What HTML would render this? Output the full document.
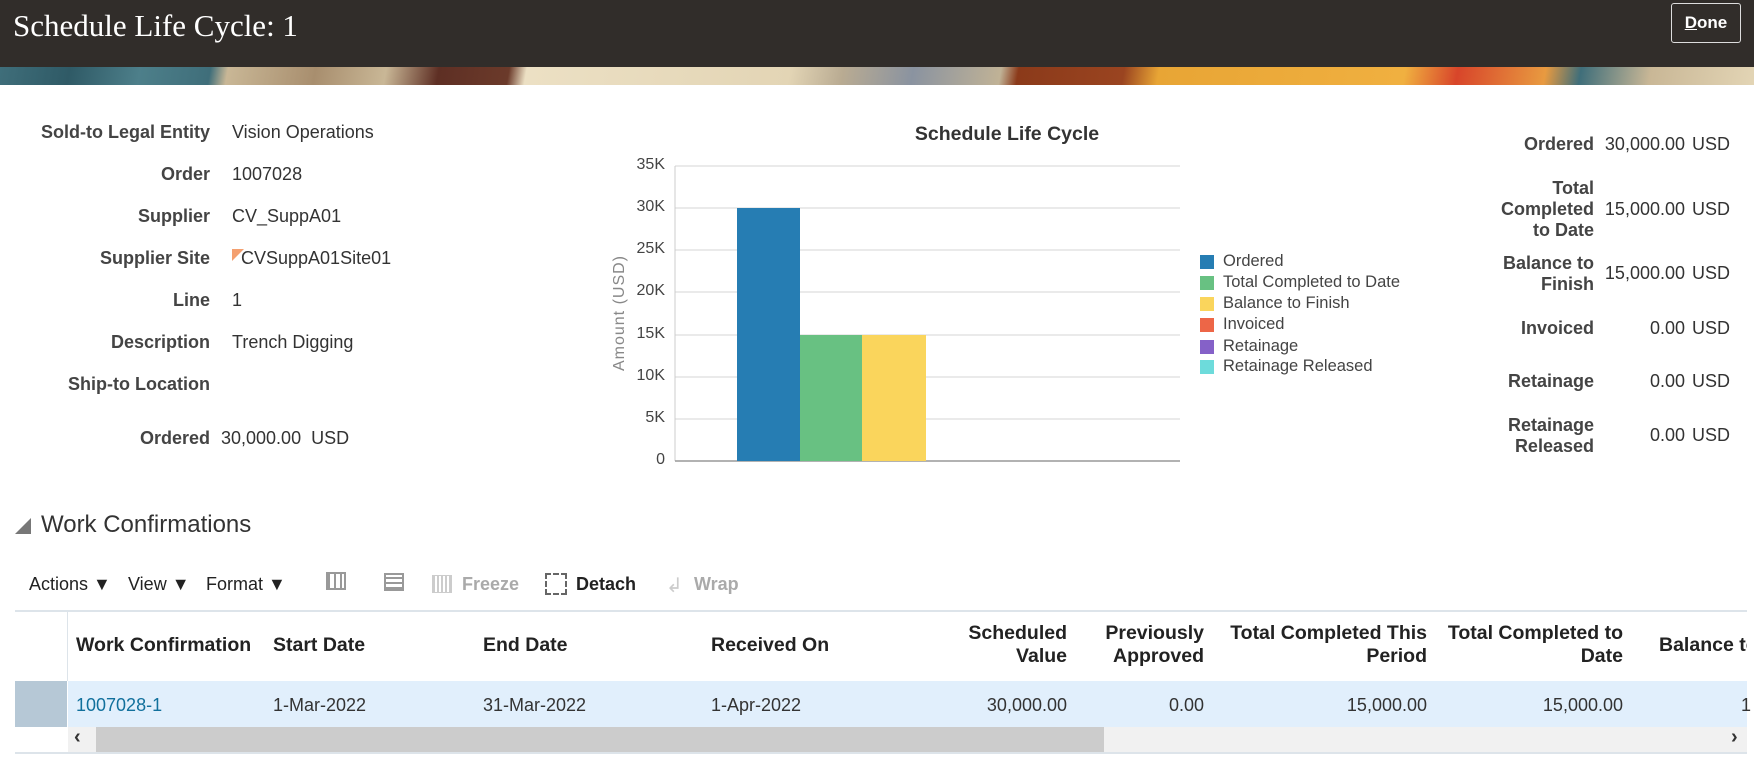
<!DOCTYPE html>
<html><head><meta charset="utf-8"><style>
*{margin:0;padding:0;box-sizing:border-box}
body{width:1754px;height:758px;background:#fff;position:relative;overflow:hidden;font-family:"Liberation Sans",sans-serif;color:#333}
.a{position:absolute;white-space:nowrap}
.hdr{left:0;top:0;width:1754px;height:67px;background:#312d2a}
.ban{left:0;top:67px;width:1754px;height:18px;background:linear-gradient(100deg,#3f6e7a 0,#2f5a66 4%,#4d7f8a 8%,#3f6e7a 12%,#c9b796 13%,#a88e6e 18%,#c9b796 22%,#5e2f24 25%,#6b3a2a 29%,#ece0c4 30%,#e3d5b5 45%,#b9ab92 48%,#8a93a0 52%,#c0b296 57%,#8b3a1a 58%,#9a4420 64%,#e8a535 66%,#f0b040 80%,#d8452a 83%,#e89a40 88%,#3f6e7a 90%,#c9b796 94%,#e3d5b5 100%)}
.lbl{font-size:18px;font-weight:bold;color:#444;text-align:right}
.val{font-size:18px;color:#333}
.th{font-size:19.5px;font-weight:bold;color:#222}
.td{font-size:18px;color:#333}
.r{text-align:right}
.tk{font-size:16px;color:#444;text-align:right;width:40px}
.lg{font-size:16.5px;color:#444}
.sq{position:absolute;width:14px;height:14px}
</style></head><body>
<div class="a hdr"></div>
<div class="a" style="left:13px;top:8px;font-family:'Liberation Serif',serif;font-size:31px;color:#fff">Schedule Life Cycle: 1</div>
<div class="a" style="left:1671px;top:3px;width:70px;height:40px;border:1px solid #ddd;border-radius:3px;color:#fff;font-weight:bold;font-size:17px;text-align:center;line-height:38px"><u>D</u>one</div>
<div class="a ban"></div>

<div class="a lbl" style="right:1544px;top:122px">Sold-to Legal Entity</div><div class="a val" style="left:232px;top:122px">Vision Operations</div>
<div class="a lbl" style="right:1544px;top:164px">Order</div><div class="a val" style="left:232px;top:164px">1007028</div>
<div class="a lbl" style="right:1544px;top:206px">Supplier</div><div class="a val" style="left:232px;top:206px">CV_SuppA01</div>
<div class="a lbl" style="right:1544px;top:248px">Supplier Site</div><div class="a val" style="left:241px;top:248px">CVSuppA01Site01</div>
<div class="a" style="left:232px;top:249px;width:0;height:0;border-top:12px solid #f4a070;border-right:12px solid transparent"></div>
<div class="a lbl" style="right:1544px;top:290px">Line</div><div class="a val" style="left:232px;top:290px">1</div>
<div class="a lbl" style="right:1544px;top:332px">Description</div><div class="a val" style="left:232px;top:332px">Trench Digging</div>
<div class="a lbl" style="right:1544px;top:374px">Ship-to Location</div>
<div class="a lbl" style="right:1544px;top:428px">Ordered</div><div class="a val" style="left:221px;top:428px">30,000.00&nbsp; USD</div>

<div class="a" style="left:900px;top:123px;width:214px;text-align:center;font-size:19.5px;font-weight:bold;color:#333">Schedule Life Cycle</div>
<svg class="a" style="left:0;top:0" width="1754" height="758">
<g stroke="#e4e4e4" stroke-width="1.5">
<line x1="675" x2="1180" y1="166" y2="166"/><line x1="675" x2="1180" y1="208" y2="208"/><line x1="675" x2="1180" y1="250" y2="250"/><line x1="675" x2="1180" y1="292" y2="292"/><line x1="675" x2="1180" y1="335" y2="335"/><line x1="675" x2="1180" y1="377" y2="377"/><line x1="675" x2="1180" y1="419" y2="419"/>
</g>
<line x1="675" x2="675" y1="166" y2="461" stroke="#ccc"/>
<line x1="675" x2="1180" y1="461" y2="461" stroke="#999" stroke-width="1.5"/>
<rect x="737" y="208" width="63" height="253" fill="#267db3"/>
<rect x="800" y="335" width="62" height="126" fill="#68c182"/>
<rect x="862" y="335" width="64" height="126" fill="#fad55c"/>
<text x="624" y="313" transform="rotate(-90 624 313)" text-anchor="middle" font-family="Liberation Sans" font-size="16" fill="#888" letter-spacing="1">Amount (USD)</text>
</svg>
<div class="a tk" style="left:625px;top:156px">35K</div>
<div class="a tk" style="left:625px;top:198px">30K</div>
<div class="a tk" style="left:625px;top:240px">25K</div>
<div class="a tk" style="left:625px;top:282px">20K</div>
<div class="a tk" style="left:625px;top:325px">15K</div>
<div class="a tk" style="left:625px;top:367px">10K</div>
<div class="a tk" style="left:625px;top:409px">5K</div>
<div class="a tk" style="left:625px;top:451px">0</div>

<div class="sq" style="left:1200px;top:255px;background:#267db3"></div><div class="a lg" style="left:1223px;top:252px">Ordered</div>
<div class="sq" style="left:1200px;top:276px;background:#68c182"></div><div class="a lg" style="left:1223px;top:273px">Total Completed to Date</div>
<div class="sq" style="left:1200px;top:297px;background:#fad55c"></div><div class="a lg" style="left:1223px;top:294px">Balance to Finish</div>
<div class="sq" style="left:1200px;top:318px;background:#ed6647"></div><div class="a lg" style="left:1223px;top:315px">Invoiced</div>
<div class="sq" style="left:1200px;top:340px;background:#8561c8"></div><div class="a lg" style="left:1223px;top:337px">Retainage</div>
<div class="sq" style="left:1200px;top:360px;background:#6ddbdb"></div><div class="a lg" style="left:1223px;top:357px">Retainage Released</div>

<div class="a lbl" style="right:160px;top:134px">Ordered</div><div class="a val r" style="right:69px;top:134px">30,000.00</div><div class="a val" style="left:1692px;top:134px">USD</div>
<div class="a lbl" style="right:160px;top:178px;line-height:21px">Total<br>Completed<br>to Date</div><div class="a val r" style="right:69px;top:199px">15,000.00</div><div class="a val" style="left:1692px;top:199px">USD</div>
<div class="a lbl" style="right:160px;top:253px;line-height:21px">Balance to<br>Finish</div><div class="a val r" style="right:69px;top:263px">15,000.00</div><div class="a val" style="left:1692px;top:263px">USD</div>
<div class="a lbl" style="right:160px;top:318px">Invoiced</div><div class="a val r" style="right:69px;top:318px">0.00</div><div class="a val" style="left:1692px;top:318px">USD</div>
<div class="a lbl" style="right:160px;top:371px">Retainage</div><div class="a val r" style="right:69px;top:371px">0.00</div><div class="a val" style="left:1692px;top:371px">USD</div>
<div class="a lbl" style="right:160px;top:415px;line-height:21px">Retainage<br>Released</div><div class="a val r" style="right:69px;top:425px">0.00</div><div class="a val" style="left:1692px;top:425px">USD</div>

<div class="a" style="left:15px;top:518px;width:0;height:0;border-bottom:16px solid #777;border-left:16px solid transparent"></div>
<div class="a" style="left:41px;top:511px;font-size:24px;color:#333">Work Confirmations</div>

<div class="a td" style="left:29px;top:574px;color:#222">Actions ▼</div>
<div class="a td" style="left:128px;top:574px;color:#222">View ▼</div>
<div class="a td" style="left:206px;top:574px;color:#222">Format ▼</div>
<div class="a" style="left:326px;top:572px;width:20px;height:18px;border:2px solid #999;background:repeating-linear-gradient(90deg,#999 0 2px,transparent 2px 6px)"></div>
<div class="a" style="left:384px;top:573px;width:20px;height:18px;border:2px solid #999;background:repeating-linear-gradient(0deg,#999 0 2px,transparent 2px 5px)"></div>
<div class="a" style="left:432px;top:575px;width:20px;height:18px;border:1px solid #ccc;background:repeating-linear-gradient(90deg,#ccc 0 2px,transparent 2px 4px)"></div>
<div class="a" style="left:462px;top:574px;font-size:18px;font-weight:bold;color:#aaa">Freeze</div>
<div class="a" style="left:545px;top:573px;width:22px;height:22px;border:2px dashed #666"></div>
<div class="a" style="left:576px;top:574px;font-size:18px;font-weight:bold;color:#222">Detach</div>
<div class="a" style="left:666px;top:573px;font-size:20px;color:#ccc">↲</div>
<div class="a" style="left:694px;top:574px;font-size:18px;font-weight:bold;color:#aaa">Wrap</div>

<div class="a" style="left:15px;top:610px;width:1732px;height:2px;background:#dde4ea"></div>
<div class="a" style="left:67px;top:612px;width:1px;height:69px;background:#dde4ea"></div>
<div class="a" style="left:15px;top:681px;width:52px;height:46px;background:#b6c8d6"></div>
<div class="a" style="left:68px;top:681px;width:1679px;height:46px;background:#e1effc"></div>
<div class="a th" style="left:76px;top:634px">Work Confirmation</div>
<div class="a th" style="left:273px;top:634px">Start Date</div>
<div class="a th" style="left:483px;top:634px">End Date</div>
<div class="a th" style="left:711px;top:634px">Received On</div>
<div class="a th r" style="right:687px;top:622px;line-height:23px">Scheduled<br>Value</div>
<div class="a th r" style="right:550px;top:622px;line-height:23px">Previously<br>Approved</div>
<div class="a th r" style="right:327px;top:622px;line-height:23px">Total Completed This<br>Period</div>
<div class="a th r" style="right:131px;top:622px;line-height:23px">Total Completed to<br>Date</div>
<div class="a th" style="left:1659px;top:634px;width:88px;overflow:hidden">Balance to</div>
<div class="a td" style="left:76px;top:695px;color:#11709c">1007028-1</div>
<div class="a td" style="left:273px;top:695px">1-Mar-2022</div>
<div class="a td" style="left:483px;top:695px">31-Mar-2022</div>
<div class="a td" style="left:711px;top:695px">1-Apr-2022</div>
<div class="a td r" style="right:687px;top:695px">30,000.00</div>
<div class="a td r" style="right:550px;top:695px">0.00</div>
<div class="a td r" style="right:327px;top:695px">15,000.00</div>
<div class="a td r" style="right:131px;top:695px">15,000.00</div>
<div class="a td" style="left:1741px;top:695px">1</div>
<div class="a" style="left:68px;top:727px;width:1679px;height:25px;background:#f1f1f1"></div>
<div class="a" style="left:96px;top:727px;width:1008px;height:25px;background:#cccccc"></div>
<div class="a" style="left:74px;top:726px;font-size:20px;font-weight:bold;color:#333">‹</div>
<div class="a" style="left:1731px;top:726px;font-size:20px;font-weight:bold;color:#333">›</div>
<div class="a" style="left:15px;top:752px;width:1732px;height:2px;background:#dde4ea"></div>
</body></html>
